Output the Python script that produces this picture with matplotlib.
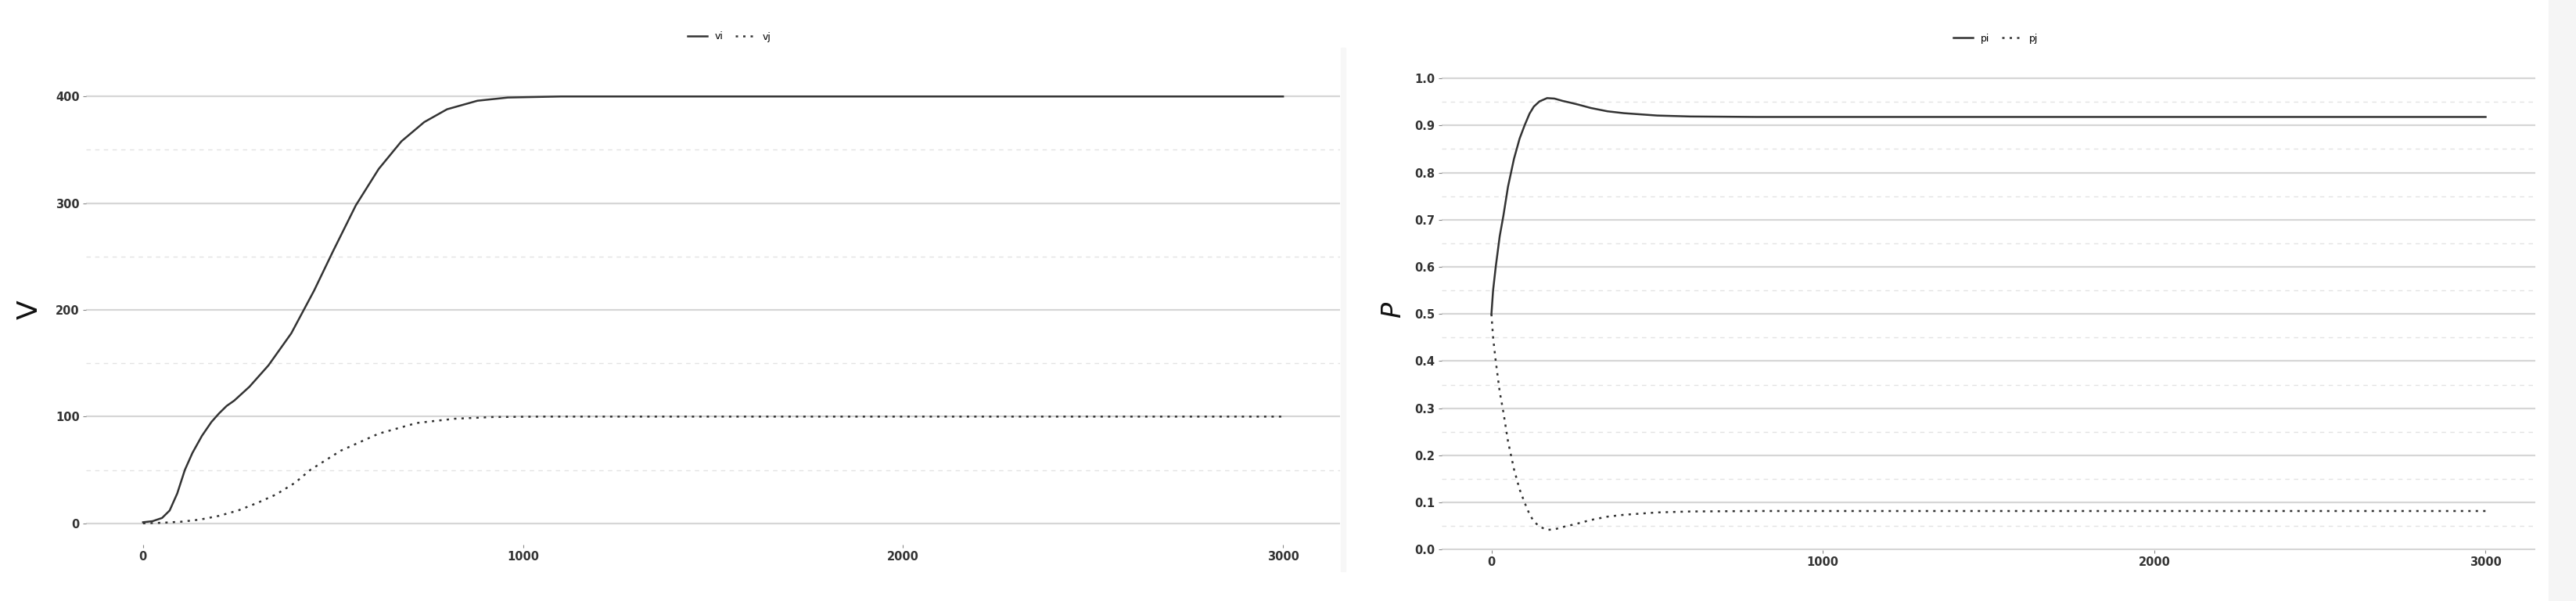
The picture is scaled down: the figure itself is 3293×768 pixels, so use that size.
import numpy as np
import matplotlib.pyplot as plt
from matplotlib.patches import Rectangle

# left panel: V over time
t_v = [0, 25, 50, 70, 90, 110, 130, 155, 180, 200, 220, 240, 280, 330, 390, 450,
       500, 560, 620, 680, 740, 800, 880, 960, 1100, 1500, 2000, 2500, 3000]
vi = [1, 2, 5, 12, 28, 50, 66, 82, 95, 103, 110, 115, 128, 148, 178, 218,
      255, 298, 332, 358, 376, 388, 396, 399, 400, 400, 400, 400, 400]
t_vj = [0, 50, 100, 150, 200, 250, 300, 350, 400, 440, 520, 620, 720, 820, 920, 1050,
        1500, 2000, 2500, 3000]
vj = [0, 0.5, 1.5, 3.5, 7, 12, 19, 27, 38, 50, 68, 84, 94, 98, 99.6, 100,
      100, 100, 100, 100]

# right panel: P over time
t_p = [0, 5, 13, 25, 36, 50, 68, 85, 100, 115, 128, 145, 168, 190, 215, 240, 263,
       300, 350, 400, 500, 600, 800, 1000, 1500, 2000, 2500, 3000]
pi = [0.5, 0.55, 0.60, 0.665, 0.708, 0.77, 0.829, 0.872, 0.90, 0.925, 0.94, 0.951,
      0.958, 0.957, 0.952, 0.948, 0.944, 0.937, 0.930, 0.926, 0.921, 0.919, 0.918,
      0.918, 0.918, 0.918, 0.918, 0.918]
pj = [1 - p for p in pi]

W, H = 3293, 768
fig = plt.figure(figsize=(W / 100, H / 100), dpi=100)
fig.patch.set_facecolor('white')

def px_axes(x0, x1, y0, y1):
    # pixel box (top-left origin) -> figure fraction
    return fig.add_axes([x0 / W, 1 - y1 / H, (x1 - x0) / W, (y1 - y0) / H])

ax1 = px_axes(110, 1713, 96, 696)
ax2 = px_axes(1843, 3241, 88, 703)

line_kw = dict(color='#333333', lw=1.8)
dot = (0, (1.2, 2.6))

ax1.plot(t_v, vi, label='vi', **line_kw)
ax1.plot(t_vj, vj, label='vj', ls=dot, **line_kw)
ax2.plot(t_p, pi, label='pi', **line_kw)
ax2.plot(t_p, pj, label='pj', ls=dot, **line_kw)

ax1.set_xlim(-150, 3150)
ax1.set_ylim(-20, 420)
ax1.set_yticks([0, 100, 200, 300, 400])
ax1.set_yticks([50, 150, 250, 350], minor=True)

ax2.set_xlim(-150, 3150)
ax2.set_ylim(-0.001, 1.02)
ax2.set_yticks(np.round(np.arange(0, 1.01, 0.1), 1))
ax2.set_yticklabels(['%.1f' % v for v in np.arange(0, 1.01, 0.1)])
ax2.set_yticks(np.arange(0.05, 1.0, 0.1), minor=True)

for ax in (ax1, ax2):
    ax.set_xticks([0, 1000, 2000, 3000])
    ax.set_facecolor('white')
    for s in ax.spines.values():
        s.set_visible(False)
    ax.set_axisbelow(True)
    ax.grid(axis='y', which='major', color='#d6d6d6', lw=1.6)
    ax.grid(axis='y', which='minor', color='#e3e3e3', lw=1.0, ls=(0, (4, 4)))
    ax.grid(axis='x', visible=False)
    ax.tick_params(axis='both', which='major', length=3, width=0.8, color='#888888',
                   labelsize=10.5, labelcolor='#333333', pad=3)
    ax.tick_params(axis='y', which='minor', length=0)
    for lab in ax.get_xticklabels() + ax.get_yticklabels():
        lab.set_fontweight('bold')

ax1.set_ylabel('V', fontsize=26, color='#111111', labelpad=12)
ax2.set_ylabel('P', fontsize=24, color='#111111', labelpad=8, style='italic')

leg_kw = dict(ncol=2, frameon=False, fontsize=9, handlelength=2.0,
              columnspacing=1.2, handletextpad=0.8, loc='center')
ax1.legend(bbox_to_anchor=(932 / W, 1 - 47 / H), bbox_transform=fig.transFigure, **leg_kw)
ax2.legend(bbox_to_anchor=(2551 / W, 1 - 49 / H), bbox_transform=fig.transFigure, **leg_kw)

# faint panel edges
fig.patches.append(Rectangle((1714 / W, 0.05), 6 / W, 0.87, transform=fig.transFigure,
                             color='#f7f7f7', zorder=0))
fig.patches.append(Rectangle((3258 / W, 0), 35 / W, 1, transform=fig.transFigure,
                             color='#f5f5f5', zorder=0))

fig.savefig('out.png', dpi=100, facecolor='white')
